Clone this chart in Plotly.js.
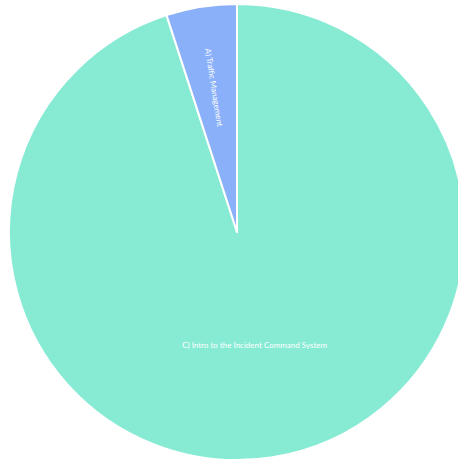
<!DOCTYPE html>
<html>
<head>
<meta charset="utf-8">
<script src="https://cdn.plot.ly/plotly-3.0.1.min.js"></script>
<style>
html,body{margin:0;padding:0;overflow:hidden;background:#fff;}
#chart{width:474px;height:460px;}
</style>
</head>
<body>
<div id="chart"></div>
<script>
const labels = ["C) Intro to the Incident Command System", "A) Traffic Management"];
const values = [19, 1];
const colors = ["#87EBD4", "#8AB0FA"];

Plotly.newPlot("chart", [{
  type: "pie",
  labels: labels,
  values: values,
  sort: false,
  direction: "clockwise",
  rotation: 0,
  textinfo: "label",
  textposition: "inside",
  insidetextorientation: "auto",
  textfont: {color: "#ffffff", size: 8, family: "Lato, 'Open Sans', sans-serif"},
  marker: {colors: colors, line: {color: "#ffffff", width: 2}},
  hoverinfo: "label+value+percent"
}], {
  width: 474,
  height: 460,
  margin: {l: 0, r: 0, t: 4, b: 0, pad: 0},
  showlegend: false,
  paper_bgcolor: "#ffffff",
  plot_bgcolor: "#ffffff"
}, {displayModeBar: false, staticPlot: true});
</script>
</body>
</html>
